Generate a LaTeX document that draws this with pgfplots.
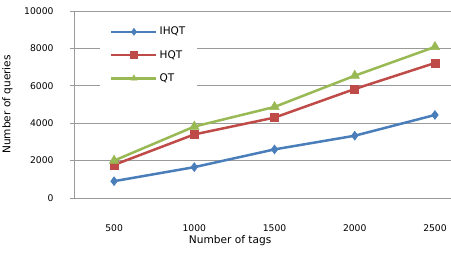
\documentclass[border=0pt]{standalone}
\usepackage{fontspec}
\setmainfont{DejaVu Sans}
\usepackage{pgfplots}
\pgfplotsset{compat=1.18}
\definecolor{cblue}{HTML}{4A7EBB}
\definecolor{cred}{HTML}{BE4B48}
\definecolor{cgreen}{HTML}{98B954}
\definecolor{cgrid}{HTML}{9A9A9A}
\begin{document}
\begin{tikzpicture}
\begin{axis}[
  scale only axis,
  width=377bp, height=187bp,
  at={(0,0)}, anchor=south west,
  xmin=-0.5, xmax=4.2,
  ymin=0, ymax=10000,
  xtick={0,1,2,3,4},
  xticklabels={500,1000,1500,2000,2500},
  ytick={0,2000,4000,6000,8000,10000},
  scaled y ticks=false,
  /pgf/number format/assume math mode=true,
  yticklabel={\pgfmathprintnumber[fixed,1000 sep={}]{\tick}},
  tick label style={font=\fontsize{9.2bp}{11bp}\selectfont, color=black},
  xticklabel style={yshift=-19bp},
  yticklabel style={xshift=-13bp},
  axis x line*=bottom, axis y line*=left,
  axis line style={cgrid, line width=0.8bp, -},
  ymajorgrids, grid style={cgrid, line width=0.8bp},
  x tick style={draw=none},
  y tick style={cgrid, line width=0.8bp},
  tick align=outside, major tick length=4bp,
  xlabel={Number of tags},
  ylabel={Number of queries},
  label style={font=\fontsize{10.6bp}{12bp}\selectfont},
  xlabel style={at={(axis description cs:0.414,0)}, anchor=north, yshift=-34bp},
  ylabel style={at={(axis description cs:0,0.5)}, anchor=south, yshift=58bp},
  legend style={at={(26bp,177bp)}, anchor=north west, draw=none, fill=white,
    font=\fontsize{10.5bp}{12bp}\selectfont, row sep=10bp,
    inner xsep=10bp, inner ysep=4bp, cells={anchor=west}},
  legend image code/.code={
    \draw[#1, mark=none] (0bp,0bp) -- (45bp,0bp);
    \draw[#1, only marks, mark size=3.5bp] plot coordinates {(22.5bp,0bp)};
  },
  every axis plot/.append style={line width=2.5bp},
]
\addplot[cblue, mark=diamond*, mark size=4.5bp, mark options={solid, fill=cblue, line width=0.5bp}]
  coordinates {(0,900) (1,1650) (2,2600) (3,3330) (4,4440)};
\addlegendentry{IHQT}
\addplot[cred, mark=square*, mark size=4bp, mark options={solid, fill=cred, line width=0.5bp}]
  coordinates {(0,1770) (1,3400) (2,4300) (3,5830) (4,7220)};
\addlegendentry{HQT}
\addplot[cgreen, mark=triangle*, mark size=5.5bp, mark options={solid, fill=cgreen, line width=0.5bp}]
  coordinates {(0,2000) (1,3820) (2,4870) (3,6540) (4,8080)};
\addlegendentry{QT}
\end{axis}
\pgfresetboundingbox
\path[use as bounding box] (-74bp,-55bp) rectangle (377bp,198bp);
\end{tikzpicture}
\end{document}
